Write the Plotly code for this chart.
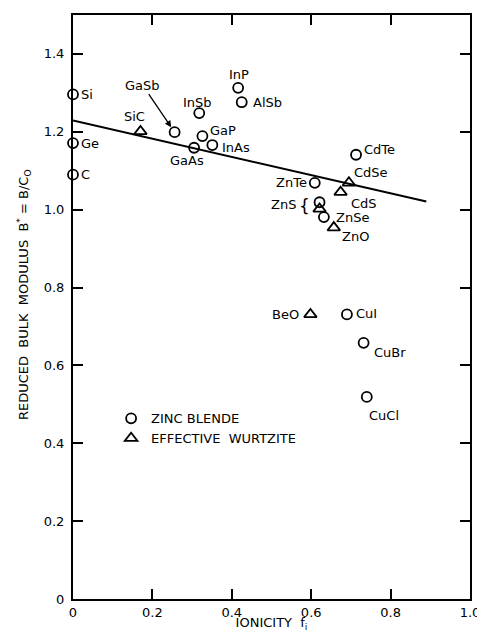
import plotly.graph_objects as go

# Zinc blende compounds (circles)
zb_names = ["Si", "Ge", "C", "GaSb", "GaAs", "GaP", "InAs", "InSb", "InP", "AlSb",
            "CdTe", "ZnTe", "ZnS", "ZnSe", "CuI", "CuBr", "CuCl"]
zb_fi = [0.0, 0.0, 0.0, 0.256, 0.305, 0.326, 0.351, 0.318, 0.416, 0.425,
         0.713, 0.609, 0.621, 0.632, 0.690, 0.732, 0.740]
zb_b = [1.296, 1.171, 1.090, 1.199, 1.159, 1.189, 1.166, 1.248, 1.313, 1.276,
        1.141, 1.069, 1.019, 0.981, 0.731, 0.658, 0.519]

# Effective wurtzite compounds (triangles)
wz_names = ["SiC", "CdSe", "CdS", "ZnS", "ZnO", "BeO"]
wz_fi = [0.170, 0.695, 0.674, 0.621, 0.657, 0.598]
wz_b = [1.201, 1.069, 1.045, 1.002, 0.954, 0.731]

# Trend line
fit_fi = [0.0, 0.89]
fit_b = [1.229, 1.021]

x_ticks = [0, 0.2, 0.4, 0.6, 0.8, 1.0]
x_ticklabels = ["0", "0.2", "0.4", "0.6", "0.8", "1.0"]
y_ticks = [0, 0.2, 0.4, 0.6, 0.8, 1.0, 1.2, 1.4]
y_ticklabels = ["0", "0.2", "0.4", "0.6", "0.8", "1.0", "1.2", "1.4"]

FONT = "DejaVu Sans"
FS = 13

fig = go.Figure()
fig.add_trace(go.Scatter(x=fit_fi, y=fit_b, mode="lines",
                         line=dict(color="black", width=2), showlegend=False,
                         hoverinfo="skip"))
fig.add_trace(go.Scatter(x=zb_fi, y=zb_b, mode="markers", name="ZINC BLENDE",
                         text=zb_names, cliponaxis=False,
                         marker=dict(symbol="circle-open", size=10,
                                     color="black", line=dict(width=1.8, color="black"))))
fig.add_trace(go.Scatter(x=wz_fi, y=wz_b, mode="markers", name="EFFECTIVE  WURTZITE",
                         text=wz_names, cliponaxis=False,
                         marker=dict(symbol="triangle-up-open", size=11,
                                     color="black", line=dict(width=1.8, color="black"))))

# label placements (pixel offsets from the point, anchor)
label_style = {
    ("zb", "Si"): (6, 0, "left", "middle"),
    ("zb", "Ge"): (6, 0, "left", "middle"),
    ("zb", "C"): (6, 0, "left", "middle"),
    ("zb", "GaAs"): (-7, 13, "center", "middle"),
    ("zb", "GaP"): (6, -6, "left", "middle"),
    ("zb", "InAs"): (8, 2, "left", "middle"),
    ("zb", "InSb"): (-2, -11, "center", "middle"),
    ("zb", "InP"): (1, -13, "center", "middle"),
    ("zb", "AlSb"): (9, 0, "left", "middle"),
    ("zb", "CdTe"): (6, -5, "left", "middle"),
    ("zb", "ZnTe"): (-6, 0, "right", "middle"),
    ("zb", "ZnSe"): (10, 0, "left", "middle"),
    ("zb", "CuI"): (7, -1, "left", "middle"),
    ("zb", "CuBr"): (8, 10, "left", "middle"),
    ("zb", "CuCl"): (0, 19, "left", "middle"),
    ("wz", "SiC"): (-6, -15, "center", "middle"),
    ("wz", "CdSe"): (3, -10, "left", "middle"),
    ("wz", "CdS"): (8, 11, "left", "middle"),
    ("wz", "ZnO"): (6, 9, "left", "middle"),
    ("wz", "BeO"): (-9, 0, "right", "middle"),
}

annotations = []
for kind, names, xs, ys in (("zb", zb_names, zb_fi, zb_b), ("wz", wz_names, wz_fi, wz_b)):
    for n, xv, yv in zip(names, xs, ys):
        if (kind, n) not in label_style:
            continue
        dx, dy, xa, ya = label_style[(kind, n)]
        annotations.append(dict(x=xv, y=yv, xref="x", yref="y", text=n,
                                showarrow=False, xshift=dx, yshift=-dy,
                                xanchor=xa, yanchor=ya,
                                font=dict(family=FONT, size=FS, color="black")))

# GaSb with arrow
i = zb_names.index("GaSb")
annotations.append(dict(x=zb_fi[i], y=zb_b[i], xref="x", yref="y", text="GaSb",
                        showarrow=True, ax=-32, ay=-47, arrowhead=2, arrowsize=1,
                        arrowwidth=1.3, arrowcolor="black", standoff=6,
                        font=dict(family=FONT, size=FS, color="black")))
# ZnS label with brace spanning circle and triangle
i = zb_names.index("ZnS")
annotations.append(dict(x=zb_fi[i], y=zb_b[i], xref="x", yref="y", text="ZnS",
                        showarrow=False, xshift=-22, yshift=-2, xanchor="right",
                        yanchor="middle",
                        font=dict(family=FONT, size=FS, color="black")))
annotations.append(dict(x=zb_fi[i], y=zb_b[i], xref="x", yref="y", text="{",
                        showarrow=False, xshift=-8, yshift=-4, xanchor="right",
                        yanchor="middle",
                        font=dict(family=FONT, size=17, color="black")))

# Y axis title placed to the left of the tick labels
annotations.append(dict(x=0, y=0.5, xref="paper", yref="paper", xshift=-49, yshift=12,
                        text="REDUCED  BULK  MODULUS  B<sup>*</sup> = B/C<sub>O</sub>",
                        textangle=-90, showarrow=False, xanchor="center", yanchor="middle",
                        font=dict(family=FONT, size=FS, color="black")))

axis_common = dict(showline=True, linecolor="black", linewidth=2, mirror="ticks",
                   ticks="inside", ticklen=10, tickwidth=2, tickcolor="black",
                   showgrid=False, zeroline=False, automargin=False,
                   tickfont=dict(family=FONT, size=FS, color="black"))

# page body adds an 8px offset, so the figure is 477x624 inside the 485x632 window
fig.update_layout(
    width=477, height=624,
    margin=dict(l=65, r=15, t=7, b=33),
    paper_bgcolor="white", plot_bgcolor="white",
    font=dict(family=FONT, size=FS, color="black"),
    xaxis=dict(range=[0, 1.0], tickvals=x_ticks, ticktext=x_ticklabels,
               title=dict(text="IONICITY  f<sub>i</sub>", standoff=2,
                          font=dict(family=FONT, size=FS)),
               **axis_common),
    yaxis=dict(range=[0, 1.5], tickvals=y_ticks, ticktext=y_ticklabels,
               ticklabelstandoff=4,
               **axis_common),
    legend=dict(x=0.096, y=0.335, xanchor="left", yanchor="top",
                bgcolor="rgba(0,0,0,0)", itemwidth=30,
                font=dict(family=FONT, size=FS, color="black")),
    annotations=annotations,
    showlegend=True,
)

fig.write_html("out.html")
